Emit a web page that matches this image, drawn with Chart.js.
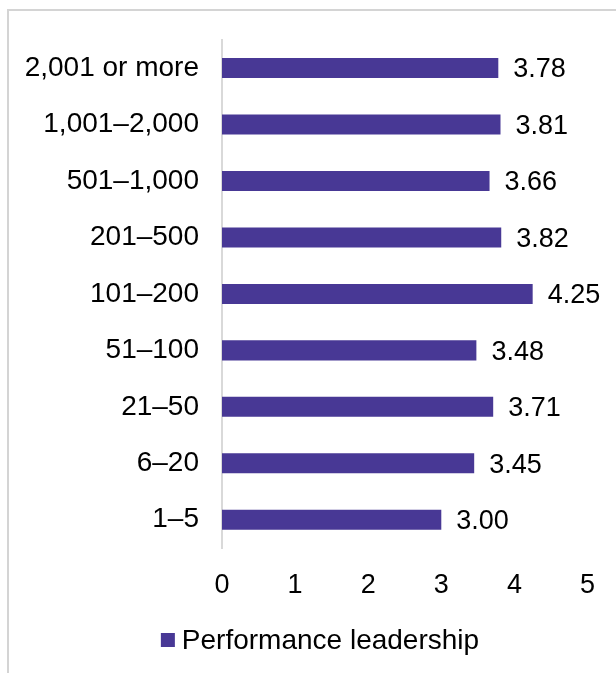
<!DOCTYPE html>
<html>
<head>
<meta charset="utf-8">
<script src="https://cdn.jsdelivr.net/npm/chart.js@4"></script>
<style>
  html, body { margin: 0; padding: 0; background: #fff; }
  #wrap { position: relative; width: 616px; height: 673px; overflow: hidden; }
  #frame { position: absolute; left: 7px; top: 9px; width: 700px; height: 700px;
           border-left: 2px solid #d4d4d4; border-top: 2px solid #d4d4d4; }
  canvas { position: absolute; left: 0; top: 0; }
</style>
</head>
<body>
<div id="wrap">
  <div id="frame"></div>
  <canvas id="chart" width="616" height="673"></canvas>
</div>
<script>
const categories = ["2,001 or more", "1,001–2,000", "501–1,000", "201–500", "101–200", "51–100", "21–50", "6–20", "1–5"];
const scores = [3.78, 3.81, 3.66, 3.82, 4.25, 3.48, 3.71, 3.45, 3.00];
const seriesName = "Performance leadership";
const xMin = 0;
const xMax = 5;

const barColor = "#483895";
const fontFamily = "'Liberation Sans', Arial, sans-serif";

// draws the value at the end of each bar
const valueLabels = {
    id: "valueLabels",
    afterDatasetsDraw(chart) {
        const ctx = chart.ctx;
        const meta = chart.getDatasetMeta(0);
        ctx.save();
        ctx.font = "27px " + fontFamily;
        ctx.fillStyle = "#000";
        ctx.textAlign = "left";
        ctx.textBaseline = "middle";
        meta.data.forEach((bar, i) => {
            ctx.fillText(scores[i].toFixed(2), bar.x + 15, bar.y + 2);
        });
        ctx.restore();
    }
};

// legend under the axis, box close to the text like the original
const bottomLegend = {
    id: "bottomLegend",
    afterDraw(chart) {
        const ctx = chart.ctx;
        const ds = chart.data.datasets[0];
        const y = 640;
        ctx.save();
        ctx.font = "28px " + fontFamily;
        const textW = ctx.measureText(ds.label).width;
        const total = 14 + 7 + textW;
        const x = 320 - total / 2;
        ctx.fillStyle = ds.backgroundColor;
        ctx.fillRect(x, y - 7, 14, 14);
        ctx.fillStyle = "#000";
        ctx.textAlign = "left";
        ctx.textBaseline = "middle";
        ctx.fillText(ds.label, x + 21, y + 1);
        ctx.restore();
    }
};

const ctx = document.getElementById("chart").getContext("2d");

new Chart(ctx, {
    type: "bar",
    data: {
        labels: categories,
        datasets: [{
            label: seriesName,
            data: scores,
            backgroundColor: barColor,
            borderWidth: 0,
            categoryPercentage: 1,
            barPercentage: 0.355
        }]
    },
    options: {
        indexAxis: "y",
        responsive: false,
        animation: false,
        layout: {
            padding: { top: 39, right: 27, bottom: 57, left: 5 }
        },
        scales: {
            x: {
                min: xMin,
                max: xMax,
                ticks: {
                    stepSize: 1,
                    color: "#000",
                    padding: 21,
                    font: { family: fontFamily, size: 27 }
                },
                grid: { display: false, drawTicks: false },
                border: { display: false },
                afterFit(scale) { scale.height = 68; }
            },
            y: {
                ticks: {
                    color: "#000",
                    padding: 23,
                    font: { family: fontFamily, size: 28 }
                },
                grid: { display: false, drawTicks: false },
                border: { display: true, color: "#d9d9d9", width: 2 },
                afterFit(scale) { scale.width = 217; }
            }
        },
        plugins: {
            legend: { display: false },
            tooltip: { enabled: false }
        }
    },
    plugins: [valueLabels, bottomLegend]
});
</script>
</body>
</html>
